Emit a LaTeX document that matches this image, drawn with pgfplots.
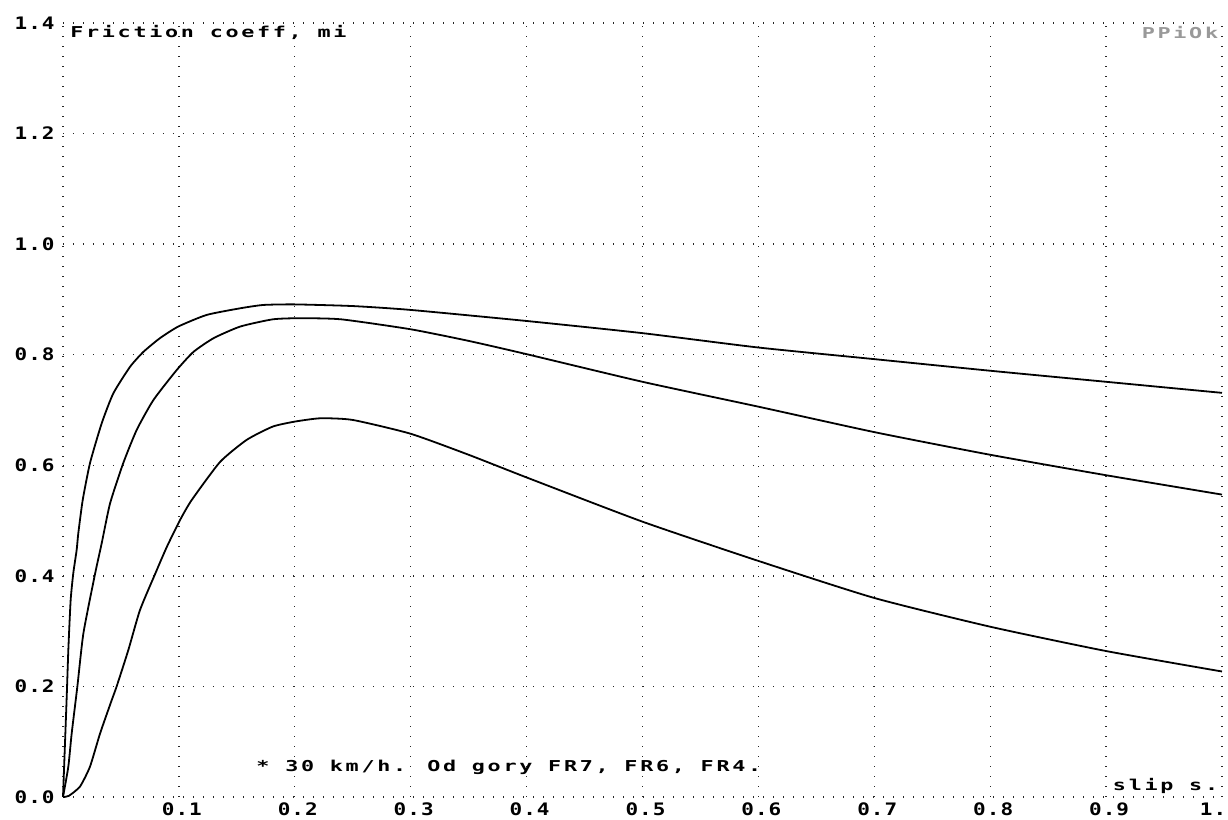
\documentclass[border=0pt]{standalone}
\usepackage{fontspec}
\usepackage{pgfplots}
\pgfplotsset{compat=1.18}
\newfontfamily\tickfont{DejaVu Sans Mono}[FakeStretch=1.22,LetterSpace=6]
\newfontfamily\txtfont{DejaVu Sans Mono}[FakeStretch=1.45,LetterSpace=18]

\pgfplotstableread{
s mu
0 0
0.0032 0.181
0.0046 0.266
0.0066 0.356
0.0089 0.405
0.0118 0.447
0.0132 0.477
0.017 0.537
0.0233 0.604
0.0334 0.676
0.0434 0.730
0.0578 0.778
0.0693 0.805
0.0837 0.830
0.0995 0.851
0.124 0.872
0.153 0.884
0.173 0.890
0.2 0.891
0.25 0.888
0.3 0.881
0.4 0.861
0.5 0.839
0.6 0.813
0.7 0.792
0.8 0.771
0.9 0.751
1.0 0.731
}\frseven

\pgfplotstableread{
s mu
0 0
0.0046 0.055
0.0075 0.115
0.0124 0.200
0.0176 0.296
0.0276 0.403
0.0334 0.459
0.0406 0.531
0.052 0.604
0.0636 0.664
0.078 0.718
0.098 0.772
0.1125 0.805
0.130 0.830
0.153 0.851
0.181 0.864
0.204 0.866
0.24 0.864
0.3 0.846
0.35 0.825
0.4 0.801
0.5 0.751
0.6 0.706
0.7 0.660
0.8 0.619
0.9 0.582
1.0 0.547
}\frsix

\pgfplotstableread{
s mu
0 0
0.005 0.002
0.0147 0.019
0.0233 0.055
0.032 0.115
0.042 0.175
0.0463 0.200
0.0564 0.266
0.0664 0.338
0.0794 0.403
0.0895 0.452
0.101 0.501
0.111 0.537
0.1355 0.606
0.1585 0.646
0.181 0.670
0.2 0.679
0.222 0.685
0.25 0.682
0.3 0.657
0.35 0.619
0.4 0.578
0.5 0.498
0.6 0.427
0.7 0.360
0.8 0.308
0.9 0.264
1.0 0.227
}\frfour

\begin{document}
\begin{tikzpicture}
\useasboundingbox (-31.5pt,-11.5pt) rectangle (582.5pt,398.5pt);
\begin{axis}[
  at={(0,0)}, anchor=south west,
  scale only axis,
  width=579.5pt, height=387pt,
  xmin=0, xmax=1, ymin=0, ymax=1.4,
  axis line style={draw=none},
  major tick length=0pt,
  xtick={0,0.1,...,1.0},
  xticklabels={,0.1,0.2,0.3,0.4,0.5,0.6,0.7,0.8,0.9,},
  ytick={0,0.2,...,1.4},
  yticklabels={0.0,0.2,0.4,0.6,0.8,1.0,1.2,1.4},
  grid=major,
  major grid style={black!85, line width=0.65pt, dash pattern=on 0.65pt off 4.35pt},
  ticklabel style={font=\tickfont\bfseries\fontsize{8.6}{10}\selectfont, inner sep=0pt},
  yticklabel style={anchor=east, xshift=-4pt},
  xticklabel style={anchor=north, yshift=-2.8pt, xshift=1.5pt},
  clip=false,
]
\addplot[black, line width=0.9pt, smooth, tension=0.35] table[x=s,y=mu] {\frseven};
\addplot[black, line width=0.9pt, smooth, tension=0.35] table[x=s,y=mu] {\frsix};
\addplot[black, line width=0.9pt, smooth, tension=0.35] table[x=s,y=mu] {\frfour};

\node[anchor=west, inner sep=0pt, font=\txtfont\bfseries\fontsize{7.5}{8}\selectfont] at (axis cs:0.006,1.382) {Friction coeff, mi};
\node[anchor=east, inner sep=0pt, text=black!40, font=\txtfont\bfseries\fontsize{7.5}{8}\selectfont] at (axis cs:0.997,1.382) {PPiOk};
\node[anchor=west, inner sep=0pt, font=\txtfont\bfseries\fontsize{7.5}{8}\selectfont] at (axis cs:0.1665,0.054) {* 30 km/h. Od gory FR7, FR6, FR4.};
\node[anchor=east, inner sep=0pt, font=\txtfont\bfseries\fontsize{7.5}{8}\selectfont] at (axis cs:0.997,0.02) {slip s.};
\node[anchor=north, inner sep=0pt, font=\tickfont\bfseries\fontsize{8.6}{10}\selectfont] at ([yshift=-2.8pt,xshift=-4.5pt]axis cs:1,0) {1.};
\end{axis}
\end{tikzpicture}
\end{document}
